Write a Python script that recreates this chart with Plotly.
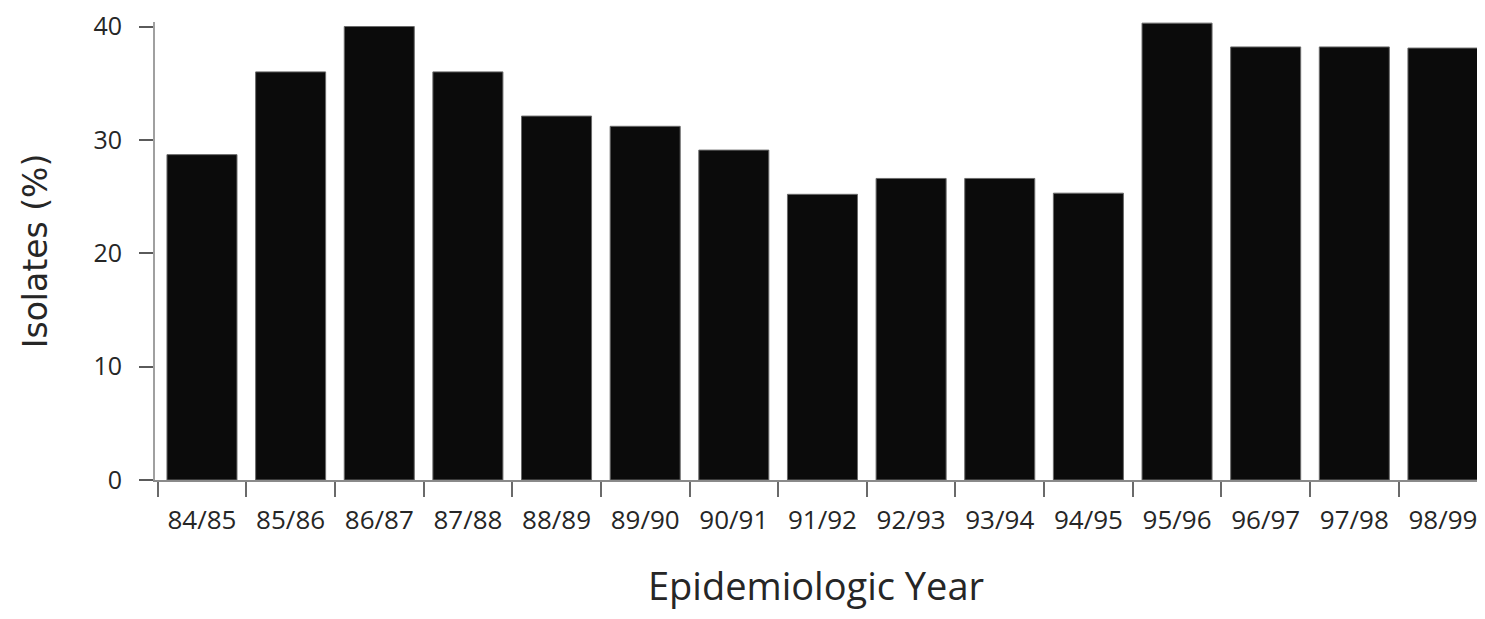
import plotly.graph_objects as go

years = ["84/85", "85/86", "86/87", "87/88", "88/89", "89/90", "90/91", "91/92",
         "92/93", "93/94", "94/95", "95/96", "96/97", "97/98", "98/99"]
isolates_pct = [28.7, 36.0, 40.0, 36.0, 32.1, 31.2, 29.1, 25.2,
                26.6, 26.6, 25.3, 40.3, 38.2, 38.2, 38.1]
y_ticks = [0, 10, 20, 30, 40]

fig = go.Figure()
fig.add_trace(go.Bar(
    x=years, y=isolates_pct,
    marker=dict(color="#0b0b0b", line=dict(color="#6a6a6a", width=1)),
    showlegend=False,
))

font_family = "Open Sans, DejaVu Sans, sans-serif"
txt = "#262626"

fig.update_layout(
    width=1469, height=603,
    margin=dict(l=147, r=0, t=14, b=131),
    paper_bgcolor="white", plot_bgcolor="white",
    bargap=0.21,
    font=dict(family=font_family, color=txt),
    xaxis=dict(
        type="category",
        range=[-0.53, 14.384],
        showline=True, linecolor="#8a8a8a", linewidth=2,
        ticks="outside", tickson="boundaries", ticklen=15, tickwidth=2,
        tickcolor="#6a6a6a",
        ticklabelstandoff=16,
        tickfont=dict(size=26, family=font_family, color=txt),
        showgrid=False, zeroline=False,
        title=dict(text="Epidemiologic Year", standoff=58,
                   font=dict(size=38, family=font_family, color=txt)),
        automargin=False,
    ),
    yaxis=dict(
        range=[0, 40.4],
        tickvals=y_ticks,
        showline=True, linecolor="#a0a0a0", linewidth=2,
        ticks="outside", ticklen=14, tickwidth=2, tickcolor="#5a5a5a",
        ticklabelstandoff=12,
        ticklabeloverflow="allow",
        tickfont=dict(size=25, family=font_family, color=txt),
        showgrid=False, zeroline=False,
        title=dict(text="Isolates (%)", standoff=36,
                   font=dict(size=33, family="DejaVu Sans, sans-serif", color=txt)),
        automargin=False,
    ),
)

fig.write_html("out.html")
